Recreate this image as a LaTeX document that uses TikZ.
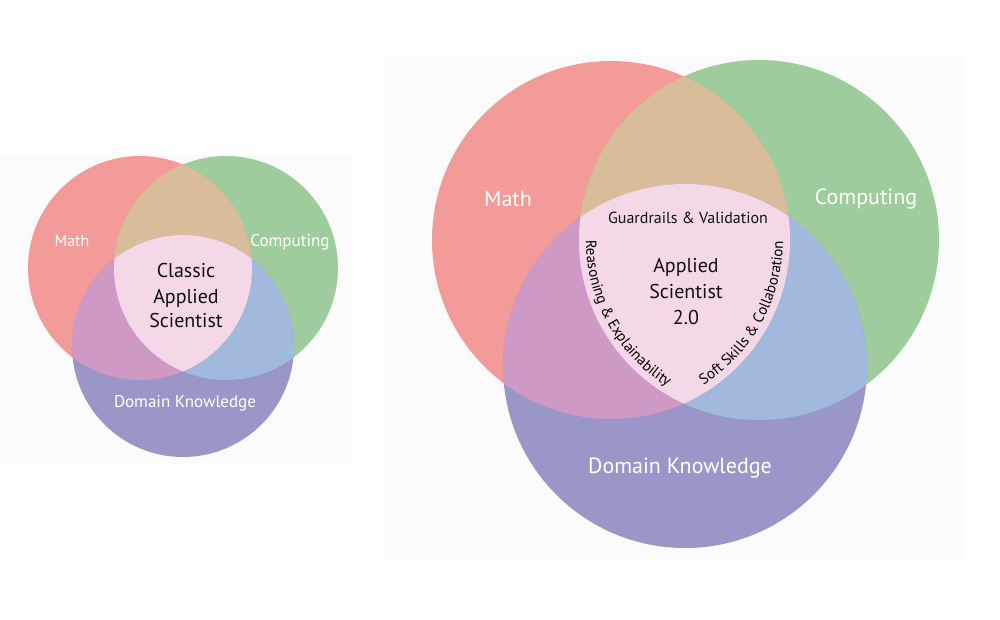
\documentclass[tikz,border=0pt]{standalone}
\usepackage{fontspec}
\setmainfont{PT Sans}
\usepackage{tikz}
\usetikzlibrary{decorations.text}
\definecolor{MathRed}{HTML}{F29B98}
\definecolor{CompGreen}{HTML}{9FCC9C}
\definecolor{DomainPurple}{HTML}{9A96C8}
\definecolor{MathCompTan}{HTML}{D9BC9A}
\definecolor{MathDomMauve}{HTML}{CF99C6}
\definecolor{CompDomBlue}{HTML}{A1B9DD}
\definecolor{CorePink}{HTML}{F5D8E8}
\definecolor{PanelGray}{HTML}{FBFBFB}
\definecolor{CoreInk}{HTML}{111111}

\begin{document}
\begin{tikzpicture}[x=1pt, y=1pt,
    setlabel/.style={text=white, inner sep=0pt, font=\fontsize{#1}{#1}\selectfont},
    corelabel/.style 2 args={text=CoreInk, align=center, inner sep=0pt, font=\fontsize{#1}{#2}\selectfont}]
    \useasboundingbox (0,0) rectangle (1000,619);
    \fill[white] (0,0) rectangle (1000,619);
    \fill[PanelGray] (0,154) rectangle (353,464);
    \fill[PanelGray] (383,59) rectangle (963,563);

    \def\MathSet{(140,351) circle (112)}
    \def\CompSet{(226,351) circle (112)}
    \def\DomSet{(183,273) circle (111)}
    \fill[MathRed] \MathSet;
    \fill[CompGreen] \CompSet;
    \fill[DomainPurple] \DomSet;
    \begin{scope}
      \clip \MathSet;
      \fill[MathCompTan] \CompSet;
      \fill[MathDomMauve] \DomSet;
    \end{scope}
    \begin{scope}
      \clip \CompSet;
      \fill[CompDomBlue] \DomSet;
      \clip \DomSet;
      \fill[CorePink] \MathSet;
    \end{scope}
    \node[setlabel=16] (oldmath) at (72,378) {Math};
    \node[setlabel=17] (oldcomp) at (290,377) {Computing};
    \node[setlabel=17] (olddomain) at (185,216) {Domain Knowledge};
    \node[corelabel={20}{25}] (classic) at (186,323) {Classic\\Applied\\Scientist};

    \def\MathSet{(611,379) circle (179)}
    \def\CompSet{(759,379) circle (180)}
    \def\DomSet{(685,253) circle (182)}
    \fill[MathRed] \MathSet;
    \fill[CompGreen] \CompSet;
    \fill[DomainPurple] \DomSet;
    \begin{scope}
      \clip \MathSet;
      \fill[MathCompTan] \CompSet;
      \fill[MathDomMauve] \DomSet;
    \end{scope}
    \begin{scope}
      \clip \CompSet;
      \fill[CompDomBlue] \DomSet;
      \clip \DomSet;
      \fill[CorePink] \MathSet;
    \end{scope}
    \node[setlabel=22] (newmath) at (508,420) {Math};
    \node[setlabel=22] (newcomp) at (866,420) {Computing};
    \node[setlabel=22] (newdomain) at (680,151) {Domain Knowledge};
    \node[corelabel={20}{26}] (applied) at (686,327) {Applied\\Scientist\\2.0};
    \node[text=CoreInk, inner sep=0pt, font=\fontsize{16}{16}\selectfont] (guardrails)
      at (688,401) {Guardrails \& Validation};
    \path[decorate, decoration={text along path, text align=center,
      text={|\fontsize{15}{15}\selectfont|Reasoning {\&} Explainability}}]
      ([shift={(169:173)}]759,379) arc[start angle=169, end angle=249, radius=173];
    \path[decorate, decoration={text along path, text align=center,
      text={|\fontsize{15}{15}\selectfont|Soft Skills {\&} Collaboration}}]
      ([shift={(-69:172)}]611,379) arc[start angle=-69, end angle=11, radius=172];
  \end{tikzpicture}
\end{document}
